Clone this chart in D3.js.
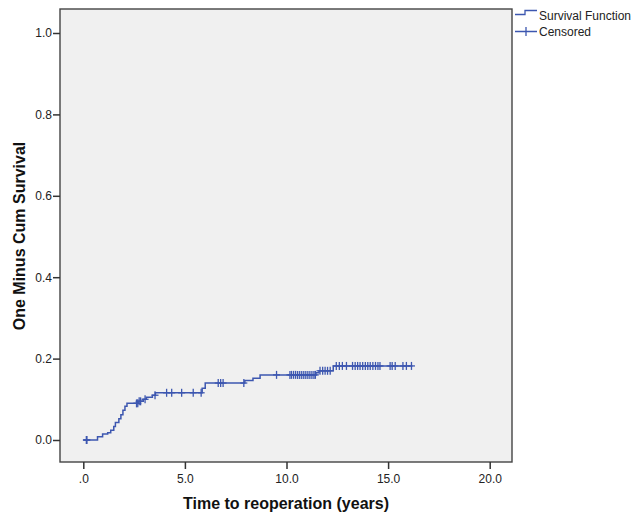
<!DOCTYPE html>
<html>
<head>
<meta charset="utf-8">
<script src="https://cdn.jsdelivr.net/npm/d3@7"></script>
<style>
  body { margin: 0; background: #fff; }
  text { font-family: "Liberation Sans", Arial, sans-serif; }
</style>
</head>
<body>
<div id="chart"></div>
<script>
// step events of the one-minus-survival curve (time in years, value after the step)
const eventTimes  = [0, 0.70, 0.95, 1.20, 1.35, 1.50, 1.58, 1.75, 1.85, 1.95, 2.05, 2.15, 2.70, 2.95, 3.10, 3.40, 3.55, 5.85, 6.00, 7.95, 8.35, 8.70, 11.45, 11.60, 12.30];
const eventValues = [0, 0.008, 0.015, 0.018, 0.024, 0.033, 0.043, 0.052, 0.062, 0.073, 0.083, 0.090, 0.095, 0.100, 0.105, 0.110, 0.116, 0.127, 0.140, 0.146, 0.152, 0.160, 0.165, 0.170, 0.182];

// censored observations (years)
const censorTimes = [
  0.15, 0.18,
  2.62, 2.68, 2.75, 2.82, 3.04, 3.53, 4.10, 4.35, 4.84, 5.41, 5.80,
  6.64, 6.76, 6.88, 7.90, 9.51, 10.17,
  10.25, 10.35, 10.45, 10.55, 10.65, 10.75, 10.85, 10.95, 11.05, 11.15, 11.25, 11.35, 11.42,
  11.65, 11.78, 11.90, 12.02, 12.15,
  12.45, 12.60, 12.75, 12.95,
  13.25, 13.38, 13.50, 13.62, 13.75, 13.88, 14.00, 14.12, 14.25, 14.38, 14.50, 14.60,
  15.10, 15.20, 15.35, 15.73, 15.90, 16.15
];
const endTime = 16.2;

const xTicks = [0, 5, 10, 15, 20];
const yTicks = [0, 0.2, 0.4, 0.6, 0.8, 1.0];

const width = 631;
const height = 515;
const lineColor = "#3d57b0";

const svg = d3.select("#chart")
  .append("svg")
  .attr("width", width)
  .attr("height", height);

const x = d3.scaleLinear().domain([0, 20]).range([83.3, 489.7]);
const y = d3.scaleLinear().domain([0, 1]).range([440, 33]);

// plot frame
const frame = { x0: 60, x1: 512, y0: 9, y1: 462 };
svg.append("rect")
  .attr("x", frame.x0)
  .attr("y", frame.y0)
  .attr("width", frame.x1 - frame.x0)
  .attr("height", frame.y1 - frame.y0)
  .attr("fill", "#f0f0f0")
  .attr("stroke", "#444")
  .attr("stroke-width", 1.4);

// axes
const xAxis = svg.append("g")
  .attr("transform", `translate(0,${frame.y1})`)
  .call(d3.axisBottom(x)
    .tickValues(xTicks)
    .tickSize(7)
    .tickSizeOuter(0)
    .tickFormat(d => d === 0 ? ".0" : d.toFixed(1)));
xAxis.select(".domain").remove();
xAxis.selectAll("line").attr("stroke", "#333").attr("stroke-width", 1.5);
xAxis.selectAll("text").attr("font-size", 12).attr("fill", "#222").attr("dy", "0.95em");

const yAxis = svg.append("g")
  .attr("transform", `translate(${frame.x0},0)`)
  .call(d3.axisLeft(y)
    .tickValues(yTicks)
    .tickSize(7)
    .tickSizeOuter(0)
    .tickFormat(d3.format(".1f")));
yAxis.select(".domain").remove();
yAxis.selectAll("line").attr("stroke", "#333").attr("stroke-width", 1.5);
yAxis.selectAll("text").attr("font-size", 12).attr("fill", "#222").attr("x", -8);

// axis titles
svg.append("text")
  .attr("x", 286)
  .attr("y", 509)
  .attr("text-anchor", "middle")
  .attr("font-size", 16)
  .attr("font-weight", "bold")
  .attr("fill", "#111")
  .text("Time to reoperation (years)");

svg.append("text")
  .attr("transform", "rotate(-90)")
  .attr("x", -236)
  .attr("y", 25)
  .attr("text-anchor", "middle")
  .attr("font-size", 16)
  .attr("font-weight", "bold")
  .attr("fill", "#111")
  .text("One Minus Cum Survival");

// step curve
const stepData = eventTimes.map((t, i) => ({ t, v: eventValues[i] }));
stepData.push({ t: endTime, v: eventValues[eventValues.length - 1] });

const line = d3.line()
  .x(d => x(d.t))
  .y(d => y(d.v))
  .curve(d3.curveStepAfter);

svg.append("path")
  .datum(stepData)
  .attr("fill", "none")
  .attr("stroke", lineColor)
  .attr("stroke-width", 1.5)
  .attr("d", line);

// censor marks sit on the curve level at that time
const levelAt = t => eventValues[d3.bisectRight(eventTimes, t) - 1];

const marks = svg.append("g")
  .attr("stroke", lineColor)
  .attr("stroke-width", 1.3);

censorTimes.forEach(t => {
  const cx = x(t), cy = y(levelAt(t));
  marks.append("line").attr("x1", cx).attr("x2", cx).attr("y1", cy - 4).attr("y2", cy + 4);
  marks.append("line").attr("x1", cx - 3.5).attr("x2", cx + 3.5).attr("y1", cy).attr("y2", cy);
});

// legend
const legend = svg.append("g");
legend.append("path")
  .attr("d", "M515,14.5H525V10.5H537")
  .attr("fill", "none")
  .attr("stroke", lineColor)
  .attr("stroke-width", 1.3);
legend.append("path")
  .attr("d", "M515,31.5H537M526,27V36")
  .attr("fill", "none")
  .attr("stroke", lineColor)
  .attr("stroke-width", 1.3);
legend.append("text")
  .attr("x", 539)
  .attr("y", 20)
  .attr("font-size", 12)
  .attr("fill", "#222")
  .text("Survival Function");
legend.append("text")
  .attr("x", 539)
  .attr("y", 36)
  .attr("font-size", 12)
  .attr("fill", "#222")
  .text("Censored");
</script>
</body>
</html>
